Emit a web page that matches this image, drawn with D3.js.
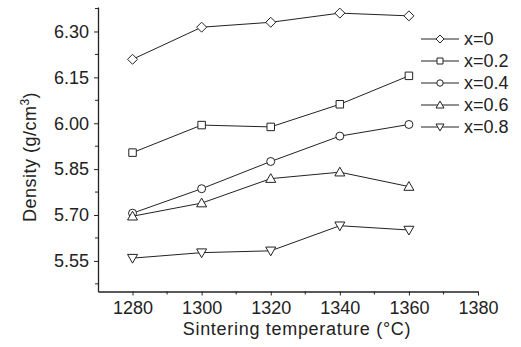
<!DOCTYPE html>
<html>
<head>
<meta charset="utf-8">
<script src="https://cdn.jsdelivr.net/npm/d3@7"></script>
<style>
  body { margin: 0; background: #fff; }
  svg { display: block; font-family: Arial, "Liberation Sans", sans-serif; }
</style>
</head>
<body>
<div id="chart"></div>
<script>
const temperatures = [1280, 1300, 1320, 1340, 1360];
const seriesNames = ['x=0', 'x=0.2', 'x=0.4', 'x=0.6', 'x=0.8'];
const density0 = [6.209, 6.314, 6.330, 6.360, 6.351];
const density02 = [5.904, 5.994, 5.988, 6.062, 6.155];
const density04 = [5.706, 5.786, 5.875, 5.958, 5.996];
const density06 = [5.696, 5.739, 5.819, 5.840, 5.793];
const density08 = [5.559, 5.577, 5.583, 5.665, 5.651];
const yTicks = [5.55, 5.70, 5.85, 6.00, 6.15, 6.30];
const xTicks = [1280, 1300, 1320, 1340, 1360, 1380];

const seriesValues = [density0, density02, density04, density06, density08];
const markers = ['diamond', 'square', 'circle', 'up', 'down'];

const W = 521, H = 347;
const svg = d3.select('#chart').append('svg')
  .attr('width', W).attr('height', H);

const x = d3.scaleLinear().domain([1270, 1380]).range([98, 478]);
const y = d3.scaleLinear().domain([5.45, 6.38]).range([291.5, 7]);

const ink = '#222';

// marker path generator, centred on 0,0
function markerPath(type, s) {
  if (type === 'diamond') return `M0,${-s}L${s},0L0,${s}L${-s},0Z`;
  if (type === 'square') return `M${-s * 0.75},${-s * 0.75}h${s * 1.5}v${s * 1.5}h${-s * 1.5}Z`;
  if (type === 'circle') {
    const r = s * 0.8;
    return `M${-r},0a${r},${r} 0 1,0 ${2 * r},0a${r},${r} 0 1,0 ${-2 * r},0`;
  }
  if (type === 'up') return `M0,${-s}L${s},${s * 0.75}L${-s},${s * 0.75}Z`;
  return `M0,${s}L${s},${-s * 0.75}L${-s},${-s * 0.75}Z`;
}

// axes
const xAxis = svg.append('g')
  .attr('transform', 'translate(0,291.5)')
  .call(d3.axisBottom(x).tickValues(xTicks).tickFormat(d3.format('d'))
    .tickSize(4).tickSizeOuter(0).tickPadding(6));
xAxis.append('g').selectAll('line')
  .data(d3.range(1290, 1380, 20))
  .join('line')
  .attr('x1', d => x(d)).attr('x2', d => x(d))
  .attr('y1', 0).attr('y2', 3)
  .attr('stroke', ink);

const yAxis = svg.append('g')
  .attr('transform', 'translate(98,0)')
  .call(d3.axisLeft(y).tickValues(yTicks).tickFormat(d3.format('.2f'))
    .tickSize(4).tickSizeOuter(0).tickPadding(5));
yAxis.append('g').selectAll('line')
  .data([5.475, 5.625, 5.775, 5.925, 6.075, 6.225, 6.375])
  .join('line')
  .attr('x1', 0).attr('x2', -3)
  .attr('y1', d => y(d)).attr('y2', d => y(d))
  .attr('stroke', ink);

[xAxis, yAxis].forEach(g => {
  g.attr('font-size', null).attr('font-family', null);
  g.select('.domain').attr('stroke', ink).attr('stroke-width', 1.3);
  g.selectAll('.tick line').attr('stroke', ink);
  g.selectAll('.tick text').attr('fill', ink).style('font-size', '18px');
});

// lines and markers
const line = d3.line()
  .x((d, i) => x(temperatures[i]))
  .y(d => y(d));

seriesValues.forEach((vals, k) => {
  svg.append('path')
    .datum(vals)
    .attr('fill', 'none')
    .attr('stroke', ink)
    .attr('stroke-width', 1)
    .attr('d', line);
  svg.append('g').selectAll('path')
    .data(vals)
    .join('path')
    .attr('transform', (d, i) => `translate(${x(temperatures[i])},${y(d)})`)
    .attr('d', markerPath(markers[k], 5))
    .attr('fill', '#fff')
    .attr('stroke', ink)
    .attr('stroke-width', 1);
});

// legend
const legend = svg.append('g');
seriesNames.forEach((name, k) => {
  const ly = 39 + k * 22;
  legend.append('line')
    .attr('x1', 421).attr('x2', 459).attr('y1', ly).attr('y2', ly)
    .attr('stroke', ink);
  legend.append('path')
    .attr('transform', `translate(440,${ly})`)
    .attr('d', markerPath(markers[k], 4))
    .attr('fill', '#fff').attr('stroke', ink);
  legend.append('text')
    .attr('x', 464).attr('y', ly + 6)
    .attr('fill', ink)
    .style('font-size', '18px')
    .text(name);
});

// axis titles
svg.append('text')
  .attr('x', 297).attr('y', 335)
  .attr('text-anchor', 'middle')
  .attr('fill', ink)
  .style('font-size', '18px')
  .style('letter-spacing', '0.7px')
  .text('Sintering temperature (°C)');

const yt = svg.append('text')
  .attr('transform', 'translate(36,157) rotate(-90)')
  .attr('text-anchor', 'middle')
  .attr('fill', ink)
  .style('font-size', '18px')
  .style('letter-spacing', '0.5px');
yt.append('tspan').text('Density (g/cm');
yt.append('tspan').attr('dy', -7).style('font-size', '12px').text('3');
yt.append('tspan').attr('dy', 7).text(')');
</script>
</body>
</html>
